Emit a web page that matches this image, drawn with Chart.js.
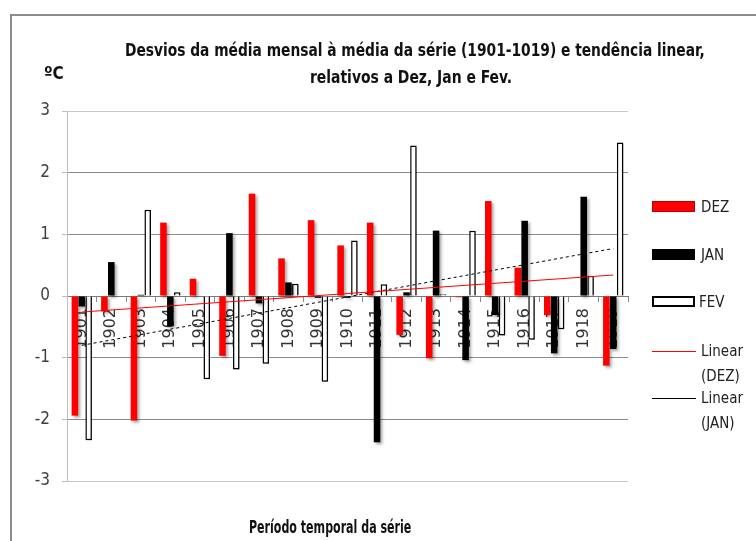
<!DOCTYPE html>
<html><head><meta charset="utf-8">
<script src="https://cdn.jsdelivr.net/npm/chart.js@4/dist/chart.umd.min.js"></script>
<style>
html,body{margin:0;padding:0;background:#fff;}
#wrap{position:relative;width:756px;height:541px;overflow:hidden;font-family:"Liberation Sans Narrow","DejaVu Sans Condensed","Open Sans",sans-serif;}
#frame{position:absolute;left:10px;top:14px;width:800px;height:600px;border-left:2px solid #8c8c8c;border-top:2px solid #8c8c8c;}
#c{position:absolute;left:0;top:0;}
.t{position:absolute;white-space:nowrap;color:#111;}
.ttl{font-weight:bold;font-size:17px;line-height:20px;}
.lg{font-size:15px;line-height:24px;color:#222;}
.box{position:absolute;left:652px;width:43px;height:11px;box-sizing:border-box;}
.ln{position:absolute;left:652px;width:44px;height:0;}
</style></head>
<body>
<div id="wrap">
<div id="frame"></div>
<canvas id="c" width="756" height="541"></canvas>
<div class="t ttl" id="t1" style="top:40px;">Desvios da média mensal à média da série (1901-1019) e tendência linear,</div>
<div class="t ttl" id="t2" style="top:67px;">relativos a Dez, Jan e Fev.</div>
<div class="t" style="left:44px;top:63px;font-weight:bold;font-size:17px;">ºC</div>
<div class="t ttl" id="xt" style="top:517px;">Período temporal da série</div>
<div class="box" style="top:201px;background:#ff0000;border:1px solid #b00;"></div>
<div class="t lg" style="left:701px;top:195px;">DEZ</div>
<div class="box" style="top:249px;background:#000;"></div>
<div class="t lg" style="left:701px;top:243px;">JAN</div>
<div class="box" style="top:296px;background:#fff;border:2px solid #000;"></div>
<div class="t lg" style="left:699px;top:290px;">FEV</div>
<div class="ln" style="top:351px;border-top:1px solid #ff0000;"></div>
<div class="t lg" style="left:701px;top:339px;">Linear</div>
<div class="t lg" style="left:701px;top:364px;">(DEZ)</div>
<div class="ln" style="top:398px;border-top:1px solid #000;"></div>
<div class="t lg" style="left:701px;top:386px;">Linear</div>
<div class="t lg" style="left:701px;top:411px;">(JAN)</div>
</div>
<script>
const years = ['1901','1902','1903','1904','1905','1906','1907','1908','1909','1910','1911','1912','1913','1914','1915','1916','1917','1918','1919'];
const dez = [-1.94,-0.25,-2.02,1.19,0.28,-0.97,1.66,0.61,1.23,0.82,1.19,-0.63,-1.01,-0.02,1.54,0.46,-0.31,0,-1.13];
const jan = [-0.17,0.55,0.02,-0.49,0,1.02,-0.12,0.22,-0.03,-0.03,-2.37,0.06,1.06,-1.04,-0.31,1.22,-0.93,1.61,-0.86];
const fev = [-2.34,0,1.40,0.06,-1.35,-1.19,-1.10,0.20,-1.39,0.90,0.19,2.44,0.03,1.06,-0.64,-0.71,-0.54,0.33,2.49];
const trendDez = [{x:'1901',y:-0.26},{x:'1919',y:0.34}];
const trendJan = [{x:'1901',y:-0.80},{x:'1919',y:0.77}];
const yTicks = [3,2,1,0,-1,-2,-3];

function fit(id, cx, w){
  const el=document.getElementById(id);
  const ow=el.offsetWidth;
  el.style.left=(cx-w/2)+'px';
  el.style.transformOrigin='0 0';
  el.style.transform='scaleX('+(w/ow)+')';
}
fit('t1',415,580);
fit('t2',411,202);
fit('xt',330,162);

const shadowPlugin = {
  id:'shadow',
  beforeDatasetDraw(chart,args){
    if(args.meta.type==='bar'){
      const ctx=chart.ctx; ctx.save();
      ctx.shadowColor='rgba(0,0,0,0.35)'; ctx.shadowBlur=3; ctx.shadowOffsetX=2; ctx.shadowOffsetY=2;
    }
  },
  afterDatasetDraw(chart,args){
    if(args.meta.type==='bar'){ chart.ctx.restore(); }
  }
};

new Chart(document.getElementById('c'), {
  type:'bar',
  data:{
    labels: years,
    datasets:[
      {type:'line',label:'Linear (DEZ)',data:trendDez,borderColor:'#ff0000',borderWidth:1,pointRadius:0,fill:false,order:0},
      {type:'line',label:'Linear (JAN)',data:trendJan,borderColor:'#000',borderWidth:1,borderDash:[3,3],pointRadius:0,fill:false,order:0},
      {label:'DEZ',data:dez,backgroundColor:'#ff0000',borderWidth:0,order:1,barPercentage:0.95,categoryPercentage:0.7},
      {label:'JAN',data:jan,backgroundColor:'#000000',borderWidth:0,order:1,barPercentage:0.95,categoryPercentage:0.7},
      {label:'FEV',data:fev,backgroundColor:'#ffffff',borderColor:'#000',borderWidth:1.5,order:1,barPercentage:0.95,categoryPercentage:0.7}
    ]
  },
  options:{
    responsive:false,animation:false,
    layout:{padding:{left:0,top:111,right:128,bottom:60}},
    plugins:{legend:{display:false},tooltip:{enabled:false},title:{display:false}},
    scales:{
      x:{
        position:{y:0},
        afterFit(s){ s.height=0; },
        grid:{display:true,drawOnChartArea:false,drawTicks:true,tickLength:5,color:'#8a8a8a',offset:true},
        border:{display:true,color:'#7a7a7a',width:1},
        ticks:{maxRotation:90,minRotation:90,padding:7,color:'#333',font:{family:'DejaVu Sans',size:16}}
      },
      y:{
        min:-3,max:3,
        afterFit(s){ s.width=67; },
        afterBuildTicks(s){ s.ticks = yTicks.map(v=>({value:v})); },
        grid:{color:(c)=> (c.tick && Math.abs(c.tick.value)===3) ? '#c8c8c8' : '#8c8c8c', tickLength:5, tickColor:'#bdbdbd'},
        border:{display:true,color:'#c0c0c0'},
        ticks:{padding:12,color:'#404040',font:{family:'Liberation Sans Narrow, DejaVu Sans Condensed, sans-serif',size:17}}
      }
    }
  },
  plugins:[shadowPlugin]
});
</script>
</body></html>
